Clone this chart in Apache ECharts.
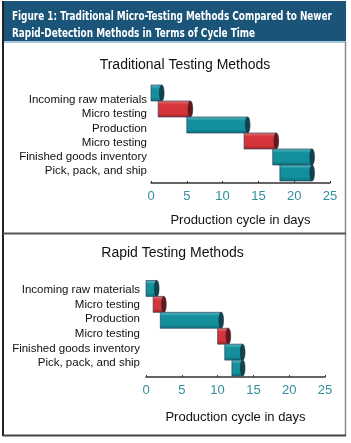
<!DOCTYPE html>
<html><head><meta charset="utf-8">
<script src="https://cdn.jsdelivr.net/npm/echarts@6/dist/echarts.min.js"></script>
<style>html,body{margin:0;padding:0;background:#fff}#c{width:351px;height:443px}</style>
</head><body><div id="c"></div>
<script>
var figureTitleLines = ['Figure 1: Traditional Micro-Testing Methods Compared to Newer', 'Rapid-Detection Methods in Terms of Cycle Time'];
var panelTitles = ['Traditional Testing Methods', 'Rapid Testing Methods'];
var axisTitle = 'Production cycle in days';
var categories = ['Incoming raw materials', 'Micro testing', 'Production', 'Micro testing', 'Finished goods inventory', 'Pick, pack, and ship'];
var stepKind = ['process', 'test', 'process', 'test', 'process', 'process'];
var traditionalStart = [0, 1, 5, 13, 17, 18];
var traditionalEnd = [1.5, 5.5, 13.5, 17.5, 22.5, 22.5];
var rapidStart = [0, 1, 2, 10, 11, 12];
var rapidEnd = [1.5, 2.5, 10.5, 11.5, 13.5, 13.5];
var xTicks = {min: 0, max: 25, interval: 5};

var FONT = '"Liberation Sans",Arial,sans-serif';
var HFONT = 'bold 13px "DejaVu Sans Condensed","DejaVu Sans",sans-serif';
var palette = {
  process: {top: '#5cbcc6', mid: '#148f9c', bot: '#0b6f7a', cap: '#0b4650'},
  test: {top: '#ec7a78', mid: '#d5343a', bot: '#a81f25', cap: '#6e1216'}
};

function buildData(starts, ends) {
  return categories.map(function (c, i) {
    return [i, starts[i], ends[i], stepKind[i] === 'test' ? 1 : 0];
  });
}

function renderItem(params, api) {
  var cat = api.value(0), s = api.value(1), e = api.value(2);
  var kind = api.value(3) === 1 ? palette.test : palette.process;
  var p0 = api.coord([s, cat]);
  var p1 = api.coord([e, cat]);
  var h = api.size([0, 1])[1] * 1.0;
  var y = p0[1] - h / 2;
  var grad = new echarts.graphic.LinearGradient(0, 0, 0, 1, [
    {offset: 0, color: kind.top}, {offset: 0.25, color: kind.mid},
    {offset: 0.75, color: kind.mid}, {offset: 1, color: kind.bot}
  ]);
  var rx = 2.3;
  return {
    type: 'group',
    children: [
      {type: 'rect', shape: {x: p0[0], y: y, width: p1[0] - p0[0], height: h},
       style: {fill: grad, stroke: '#2f4560', lineWidth: 0.7}},
      {type: 'ellipse', shape: {cx: p1[0], cy: p0[1], rx: rx, ry: h / 2},
       style: {fill: kind.cap, stroke: '#1d2f40', lineWidth: 0.7}}
    ]
  };
}

function valueAxis(gridIndex, offset, nameGap) {
  return {
    type: 'value', gridIndex: gridIndex, min: xTicks.min, max: xTicks.max, interval: xTicks.interval,
    offset: offset,
    name: axisTitle, nameLocation: 'middle', nameGap: nameGap,
    nameTextStyle: {fontFamily: FONT, fontSize: 13, color: '#111'},
    axisLine: {show: true, lineStyle: {color: '#333', width: 1.5}},
    axisTick: {show: true, inside: true, length: 2, lineStyle: {color: '#333'}},
    axisLabel: {fontFamily: FONT, fontSize: 13, color: '#2e8f9c', margin: 7},
    splitLine: {show: false}
  };
}
function hiddenValueAxis(gridIndex) {
  return {type: 'value', gridIndex: gridIndex, show: false, min: 0, max: 25};
}
function barCatAxis(gridIndex) {
  return {type: 'category', gridIndex: gridIndex, data: categories, inverse: true, show: false};
}
function labelCatAxis(gridIndex, margin) {
  return {
    type: 'category', gridIndex: gridIndex, data: categories, inverse: true,
    axisLine: {show: false}, axisTick: {show: false},
    axisLabel: {interval: 0, fontFamily: FONT, fontSize: 11.5, color: '#111', margin: margin}
  };
}

// fit header lines to the reference width with a horizontal scale
var mctx = document.createElement('canvas').getContext('2d');
mctx.font = HFONT;
var headerScale = 320 / mctx.measureText(figureTitleLines[0]).width;

var option = {
  animation: false,
  grid: [
    {left: 151, width: 179, top: 85, height: 96},
    {left: 151, width: 179, top: 92.9, height: 85.2},
    {left: 146, width: 179, top: 280.5, height: 95.5},
    {left: 146, width: 179, top: 282.7, height: 87.6}
  ],
  xAxis: [valueAxis(0, 2, 31), hiddenValueAxis(1), valueAxis(2, 1, 34), hiddenValueAxis(3)],
  yAxis: [barCatAxis(0), labelCatAxis(1, 4), barCatAxis(2), labelCatAxis(3, 6)],
  series: [
    {type: 'custom', xAxisIndex: 0, yAxisIndex: 0, renderItem: renderItem,
     encode: {x: [1, 2], y: 0}, data: buildData(traditionalStart, traditionalEnd)},
    {type: 'custom', xAxisIndex: 2, yAxisIndex: 2, renderItem: renderItem,
     encode: {x: [1, 2], y: 0}, data: buildData(rapidStart, rapidEnd)}
  ],
  graphic: [
    {type: 'rect', shape: {x: 3, y: 1, width: 343, height: 40}, style: {fill: '#1a5478'}, z: -1},
    {type: 'line', shape: {x1: 3, y1: 42, x2: 346, y2: 42}, style: {stroke: '#8db6d0', lineWidth: 1.5}},
    {type: 'line', shape: {x1: 3, y1: 1, x2: 3, y2: 436}, style: {stroke: '#222', lineWidth: 2}},
    {type: 'line', shape: {x1: 345.5, y1: 42, x2: 345.5, y2: 436}, style: {stroke: '#8a8a8a', lineWidth: 1.5}},
    {type: 'line', shape: {x1: 3, y1: 435.5, x2: 346, y2: 435.5}, style: {stroke: '#444', lineWidth: 2}},
    {type: 'line', shape: {x1: 3, y1: 233.5, x2: 346, y2: 233.5}, style: {stroke: '#555', lineWidth: 2}},
    {type: 'text', x: 12, y: 16.5, scaleX: headerScale,
     style: {text: figureTitleLines[0], fill: '#fff', font: HFONT, textAlign: 'left', textVerticalAlign: 'middle'}},
    {type: 'text', x: 12, y: 33.5, scaleX: headerScale,
     style: {text: figureTitleLines[1], fill: '#fff', font: HFONT, textAlign: 'left', textVerticalAlign: 'middle'}},
    {type: 'text', style: {text: panelTitles[0], x: 185, y: 65, fill: '#111',
      font: '14px ' + FONT, textAlign: 'center', textVerticalAlign: 'middle'}},
    {type: 'text', style: {text: panelTitles[1], x: 172.5, y: 253, fill: '#111',
      font: '14px ' + FONT, textAlign: 'center', textVerticalAlign: 'middle'}}
  ]
};
var chart = echarts.init(document.getElementById('c'), null, {renderer: 'canvas'});
chart.setOption(option);
</script>
</body></html>
